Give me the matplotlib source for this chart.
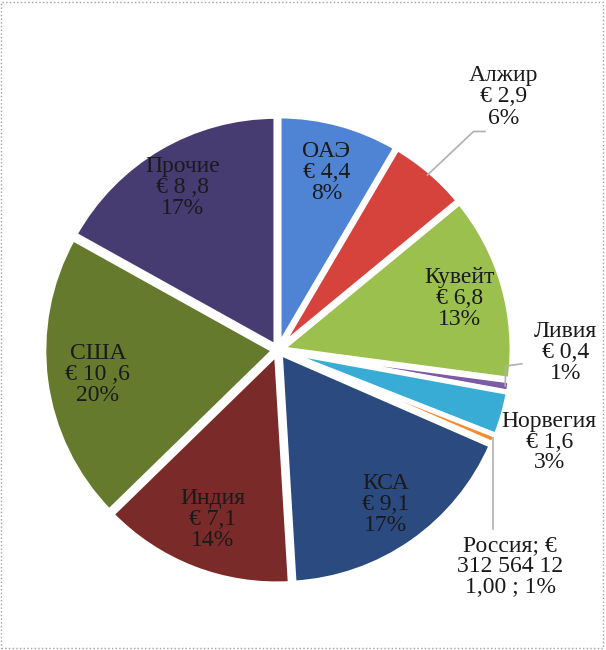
import matplotlib.pyplot as plt
import numpy as np
from matplotlib.patches import Rectangle

plt.rcParams['font.family'] = ['Liberation Serif', 'DejaVu Serif']

# data (clockwise from 12 o'clock)
names = ['ОАЭ', 'Алжир', 'Кувейт', 'Ливия', 'Норвегия', 'Россия',
         'КСА', 'Индия', 'США', 'Прочие']
values = [4.4, 2.9, 6.8, 0.4, 1.6, 0.31, 9.1, 7.1, 10.6, 8.8]
value_text = ['€ 4,4', '€ 2,9', '€ 6,8', '€ 0,4', '€ 1,6', '€',
              '€ 9,1', '€ 7,1', '€ 10 ,6', '€ 8 ,8']
pct_text = ['8%', '6%', '13%', '1%', '3%', '1%', '17%', '14%', '20%', '17%']
colors = ['#4f83d4', '#d6423c', '#9bc04e', '#7b5aa6', '#38acd4', '#f78b32',
          '#2b4a80', '#7a2a28', '#657a2c', '#463c72']

W, H = 606, 650
cx, cy, R = 278, 350, 230   # pie centre and radius in pixels

fig = plt.figure(figsize=(W / 100, H / 100), dpi=100)
ax = fig.add_axes([0, 0, 1, 1])

wedges, _ = ax.pie(values, colors=colors, startangle=90, counterclock=False,
                   radius=1, explode=[0.018] * len(values),
                   wedgeprops=dict(edgecolor='white', linewidth=3.5))
ax.set_aspect('auto')
ax.set_xlim(-cx / R, (W - cx) / R)
ax.set_ylim(-(H - cy) / R, cy / R)
ax.axis('off')

# label placement: inside ones by radius, outside ones with an offset box
inside = {'ОАЭ': 0.80, 'Кувейт': 0.82, 'КСА': 0.82, 'Индия': 0.79,
          'США': 0.79, 'Прочие': 0.82}
outside = {'Алжир': (0.98, 1.10), 'Ливия': (1.25, -0.01),
           'Норвегия': (1.18, -0.40), 'Россия': (1.01, -0.94)}
txt_kw = dict(ha='center', va='center', fontsize=17, color='#1a1a1a',
              linespacing=1.0)

for w, name, vt, pt in zip(wedges, names, value_text, pct_text):
    mid = np.deg2rad((w.theta1 + w.theta2) / 2)
    if name in inside:
        r = inside[name]
        ax.text(r * np.cos(mid), r * np.sin(mid), f'{name}\n{vt}\n{pt}', **txt_kw)
        continue
    lx, ly = outside[name]
    if name == 'Россия':
        label = 'Россия; €\n312 564 12\n1,00 ; 1%'
    else:
        label = f'{name}\n{vt}\n{pt}'
    ax.text(lx, ly, label, **txt_kw)
    ex, ey = 1.0 * np.cos(mid), 1.0 * np.sin(mid)
    if name == 'Алжир':
        ax.plot([ex, 0.85, 0.90], [ey, 0.95, 0.95], color='#b0b0b0', lw=1.2)
    elif name == 'Ливия':
        ax.plot([ex, 0.99, 1.06], [ey, -0.07, -0.06], color='#b0b0b0', lw=1.2)
    elif name == 'Россия':
        ax.plot([ex + 0.01, ex + 0.01], [ey, -0.78], color='#b0b0b0', lw=1.2)

# dotted frame around the picture
fig.patches.append(Rectangle((1 / W, 2 / H), 602 / W, 646 / H, transform=fig.transFigure,
                             fill=False, edgecolor='#a0a0a0', linestyle=':', linewidth=1))

fig.savefig('out.png', dpi=100)
